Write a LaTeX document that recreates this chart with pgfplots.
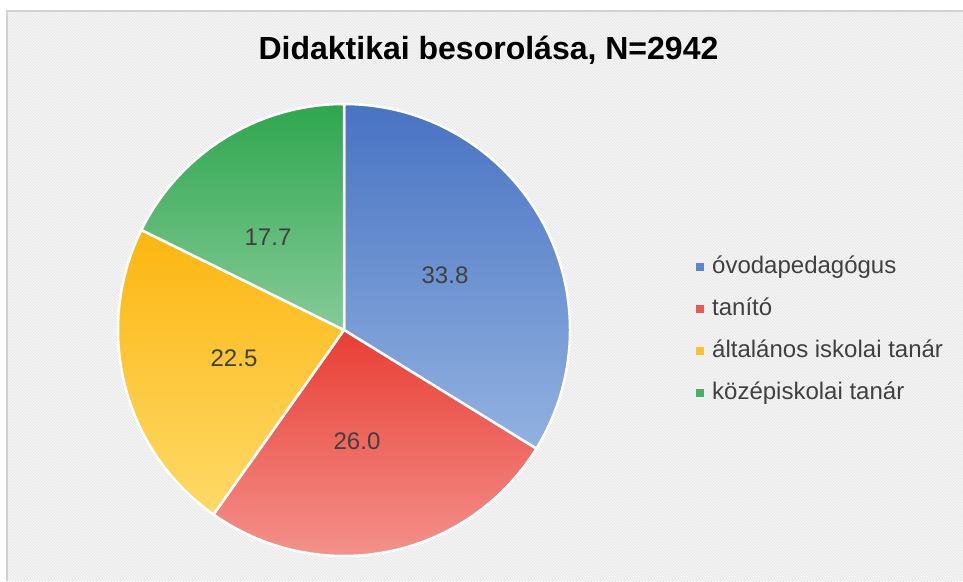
\documentclass[border=0pt]{standalone}
\usepackage{pgfplots}
\pgfplotsset{compat=1.18}
\usepackage{pgfplotstable}
\usepackage{fontspec}
\setmainfont{Liberation Sans}
\usetikzlibrary{patterns}

\definecolor{c0t}{RGB}{72,115,195}
\definecolor{c0b}{RGB}{146,178,224}
\definecolor{c1t}{RGB}{232,62,52}
\definecolor{c1b}{RGB}{244,146,140}
\definecolor{c2t}{RGB}{252,182,16}
\definecolor{c2b}{RGB}{254,218,104}
\definecolor{c3t}{RGB}{46,166,78}
\definecolor{c3b}{RGB}{134,203,152}
\definecolor{txt}{RGB}{64,64,64}
\definecolor{frame}{RGB}{210,210,210}

% value, label position (pixels, y from bottom)
\pgfplotstableread{
value lx ly
33.8 445 306
26.0 357 140
22.5 234 223
17.7 268 344
}\piedata

\begin{document}
\begin{tikzpicture}
\fill[white] (0,0) rectangle (963pt,581pt);
\fill[gray!7] (7pt,0) rectangle (963pt,570pt);
\fill[pattern=north west lines, pattern color=gray!22] (7pt,0) rectangle (963pt,570pt);
\draw[frame, line width=1.5pt] (7pt,0) -- (7pt,570pt) -- (963pt,570pt);
\begin{axis}[
  at={(0pt,0pt)}, anchor=south west,
  scale only axis, width=963pt, height=581pt,
  xmin=0, xmax=963, ymin=0, ymax=581,
  hide axis, clip=false,
  legend image code/.code={\fill[#1, draw=none] (0pt,-4pt) rectangle (8pt,4pt);},
  legend style={at={(axis cs:696,325.5)}, anchor=north west, draw=none, fill=none,
    inner sep=0pt, font=\fontsize{24}{24}\selectfont, text=txt,
    nodes={inner sep=0pt, text height=18pt, text depth=5pt},
    /tikz/column sep=8pt, /tikz/row sep=19pt},
  legend cell align=left,
]
\def\startangle{90}
\pgfplotsforeachungrouped \i in {0,...,3}{%
  \pgfplotstablegetelem{\i}{value}\of\piedata
  \let\v=\pgfplotsretval
  \pgfplotstablegetelem{\i}{lx}\of\piedata
  \let\lx=\pgfplotsretval
  \pgfplotstablegetelem{\i}{ly}\of\piedata
  \let\ly=\pgfplotsretval
  \pgfmathsetmacro\endangle{\startangle-3.6*\v}
  \edef\temp{%
    \noexpand\path[top color=c\i t, bottom color=c\i b, draw=white, line width=2.5pt, line join=round]
      (axis cs:344,251) -- ++(\startangle:226pt)
      arc[start angle=\startangle, end angle=\endangle, radius=226pt] -- cycle;
    \noexpand\node[font=\noexpand\fontsize{24}{24}\noexpand\selectfont, text=txt]
      at (axis cs:\lx,\ly) {\v};
  }%
  \temp
  \let\startangle=\endangle
}
\addlegendimage{fill=c0t!70!c0b}
\addlegendentry{óvodapedagógus}
\addlegendimage{fill=c1t!70!c1b}
\addlegendentry{tanító}
\addlegendimage{fill=c2t!70!c2b}
\addlegendentry{általános iskolai tanár}
\addlegendimage{fill=c3t!70!c3b}
\addlegendentry{középiskolai tanár}
\node[font=\bfseries\fontsize{32}{32}\selectfont, text=black] at (axis cs:488.5,531) {Didaktikai besorolása, N=2942};
\end{axis}
\pgfresetboundingbox
\useasboundingbox (0,0) rectangle (963pt,581pt);
\end{tikzpicture}
\end{document}
